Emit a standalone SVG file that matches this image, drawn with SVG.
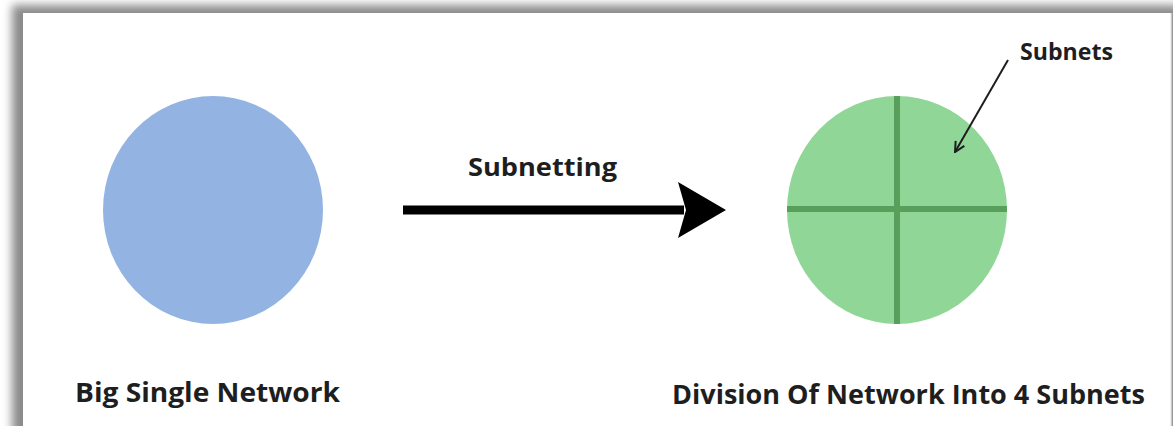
<svg xmlns="http://www.w3.org/2000/svg" width="1173" height="426" viewBox="0 0 1173 426">
  <style>
    .label { font-family: "Open Sans", "Noto Sans", "Liberation Sans", sans-serif; font-weight: 700; fill: #1e1e1e; }
    .big { font-size: 26px; }
    .mid { font-size: 25px; }
    .small { font-size: 23px; }
    .divider { stroke: #5a9e5c; stroke-width: 6; }
  </style>
  <defs>
    <filter id="frameShadow" x="-5%" y="-10%" width="110%" height="120%">
      <feGaussianBlur stdDeviation="5"/>
    </filter>
    <marker id="thinHead" viewBox="0 0 12 12" refX="11" refY="6" markerWidth="12" markerHeight="12" markerUnits="userSpaceOnUse" orient="auto">
      <path d="M1,1 L11,6 L1,11" fill="none" stroke="#1e1e1e" stroke-width="2"/>
    </marker>
  </defs>

  <!-- page background and framed panel -->
  <rect x="0" y="0" width="1173" height="426" fill="#ffffff"/>
  <rect x="12" y="5" width="1170" height="440" fill="#8a8a8a" filter="url(#frameShadow)"/>
  <rect x="23" y="13" width="1148" height="420" fill="#ffffff"/>
  <line x1="1171.5" y1="13" x2="1171.5" y2="426" stroke="#c8c8c8" stroke-width="1.5"/>

  <!-- single network -->
  <g id="big-network">
    <ellipse cx="213" cy="210" rx="110" ry="114" fill="#93b4e2"/>
    <text class="label big" x="75" y="402" textLength="265" lengthAdjust="spacingAndGlyphs">Big Single Network</text>
  </g>

  <!-- network divided into four subnets -->
  <g id="subnetted-network">
    <ellipse cx="897" cy="210" rx="110" ry="114" fill="#8fd697"/>
    <line class="divider" x1="897" y1="96" x2="897" y2="324"/>
    <line class="divider" x1="787" y1="209" x2="1007" y2="209"/>
    <text class="label big" x="672" y="404" textLength="473" lengthAdjust="spacingAndGlyphs">Division Of Network Into 4 Subnets</text>
  </g>

  <g id="subnets-callout">
    <text class="label small" x="1020" y="60" textLength="93" lengthAdjust="spacingAndGlyphs">Subnets</text>
  </g>

  <!-- connectors -->
  <g id="connectors">
    <g id="subnetting-arrow">
      <line x1="403" y1="210" x2="684" y2="210" stroke="#000" stroke-width="9"/>
      <path d="M726,210 L678,182 L686,210 L678,238 Z" fill="#000"/>
      <text class="label mid" x="468" y="176" textLength="149" lengthAdjust="spacingAndGlyphs">Subnetting</text>
    </g>
    <line id="subnets-pointer" x1="1008" y1="60" x2="955" y2="152" stroke="#1e1e1e" stroke-width="2" marker-end="url(#thinHead)"/>
  </g>
</svg>
